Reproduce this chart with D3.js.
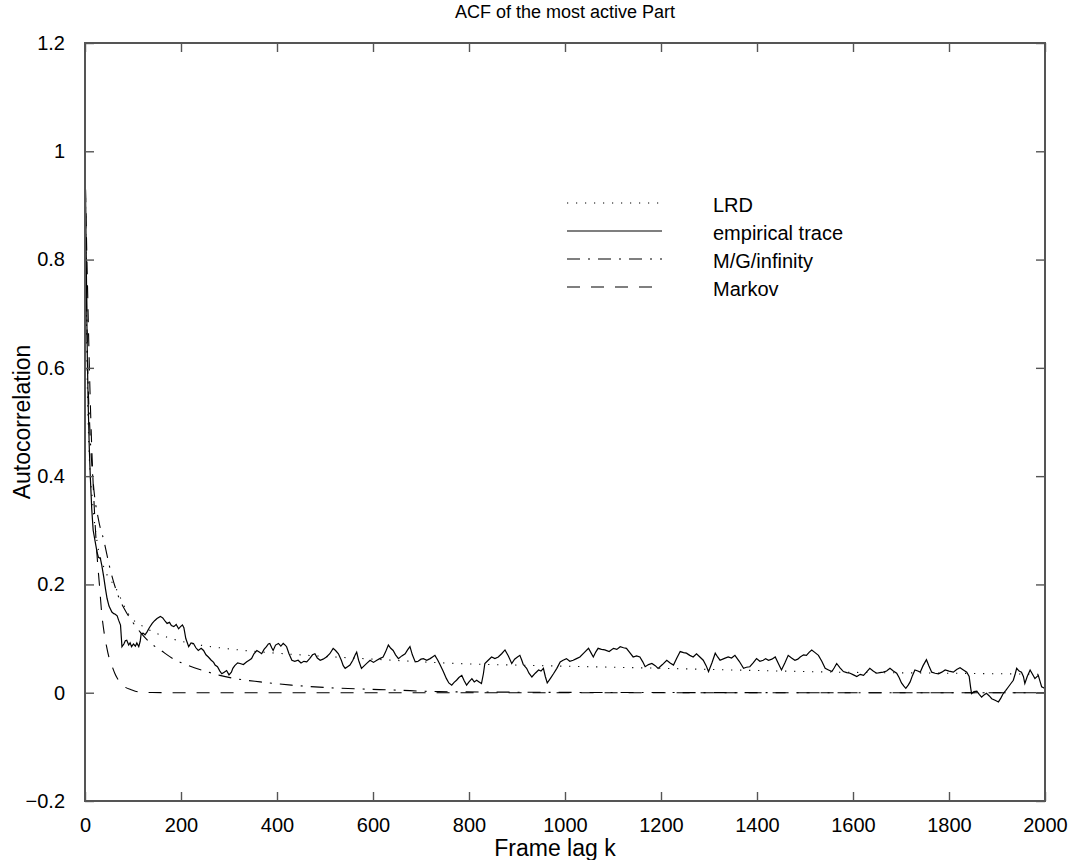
<!DOCTYPE html>
<html>
<head>
<meta charset="utf-8">
<script src="https://cdn.jsdelivr.net/npm/d3@7"></script>
<style>
  html, body { margin: 0; padding: 0; background: #fff; }
  svg { display: block; font-family: "Liberation Sans", Arial, Helvetica, sans-serif; }
</style>
</head>
<body>
<svg id="chart" width="1075" height="860"></svg>
<script>
// Axis ticks
const xTicks = [0, 200, 400, 600, 800, 1000, 1200, 1400, 1600, 1800, 2000];
const yTicks = [-0.2, 0, 0.2, 0.4, 0.6, 0.8, 1, 1.2];
const yTickLabels = ["\u22120.2", "0", "0.2", "0.4", "0.6", "0.8", "1", "1.2"];

// Legend entries
const seriesNames = ["LRD", "empirical trace", "M/G/infinity", "Markov"];

// Empirical autocorrelation: [lag, acf]
const empirical = [
  [1,0.93],[2,0.85],[3,0.77],[4,0.68],[5,0.61],[7,0.52],[9,0.45],[11,0.40],[14,0.34],[17,0.30],
  [21,0.28],[25,0.26],[28,0.25],[32,0.248],[35,0.235],[39,0.214],[43,0.19],[46,0.174],[50,0.16],[56,0.149],
  [60,0.146],[63,0.145],[67,0.142],[70,0.134],[74,0.125],[77,0.085],[81,0.09],[84,0.096],[87,0.097],[91,0.088],
  [94,0.092],[97,0.085],[101,0.09],[105,0.086],[108,0.092],[112,0.085],[115,0.095],[117,0.109],[121,0.11],[125,0.107],
  [129,0.112],[134,0.12],[140,0.128],[145,0.133],[150,0.137],[157,0.141],[162,0.138],[167,0.132],[171,0.128],[176,0.13],
  [180,0.124],[185,0.122],[190,0.126],[195,0.118],[199,0.122],[203,0.125],[206,0.12],[210,0.1],[216,0.085],[221,0.092],
  [226,0.091],[231,0.083],[236,0.078],[242,0.082],[247,0.078],[252,0.07],[257,0.066],[263,0.06],[268,0.056],[271,0.051],
  [276,0.048],[281,0.04],[285,0.035],[290,0.038],[295,0.041],[300,0.033],[305,0.038],[308,0.045],[312,0.05],[318,0.055],
  [323,0.054],[330,0.052],[337,0.057],[342,0.06],[347,0.063],[352,0.072],[358,0.078],[363,0.075],[368,0.072],[373,0.08],
  [378,0.085],[382,0.09],[385,0.091],[389,0.083],[392,0.078],[397,0.088],[403,0.091],[408,0.086],[413,0.091],[417,0.088],
  [420,0.085],[425,0.072],[431,0.06],[437,0.058],[444,0.06],[450,0.055],[456,0.058],[462,0.057],[468,0.063],[474,0.07],
  [479,0.072],[484,0.064],[490,0.06],[496,0.062],[503,0.066],[510,0.072],[517,0.082],[522,0.078],[528,0.072],[534,0.06],
  [538,0.05],[542,0.045],[547,0.048],[552,0.051],[558,0.06],[563,0.07],[566,0.075],[570,0.06],[576,0.045],[582,0.05],
  [588,0.055],[594,0.06],[601,0.056],[608,0.06],[614,0.063],[621,0.066],[626,0.075],[632,0.088],[637,0.082],[642,0.078],
  [647,0.07],[653,0.063],[660,0.068],[667,0.072],[672,0.079],[677,0.085],[682,0.07],[688,0.057],[694,0.058],[700,0.062],
  [705,0.063],[712,0.06],[719,0.063],[724,0.066],[729,0.069],[735,0.06],[740,0.051],[746,0.04],[753,0.026],[758,0.018],
  [764,0.014],[769,0.019],[774,0.023],[779,0.028],[785,0.032],[790,0.022],[795,0.014],[800,0.02],[806,0.026],[811,0.02],
  [816,0.023],[821,0.02],[826,0.017],[830,0.035],[833,0.054],[840,0.06],[847,0.066],[854,0.063],[861,0.066],[868,0.072],
  [875,0.079],[882,0.068],[889,0.054],[895,0.062],[901,0.066],[906,0.069],[910,0.06],[913,0.052],[920,0.045],[925,0.036],
  [931,0.029],[938,0.036],[945,0.042],[950,0.04],[955,0.045],[959,0.03],[963,0.018],[970,0.027],[976,0.035],[983,0.045],
  [990,0.057],[996,0.06],[1003,0.063],[1010,0.058],[1017,0.06],[1024,0.063],[1031,0.066],[1040,0.074],[1049,0.082],[1054,0.074],
  [1059,0.066],[1064,0.075],[1069,0.082],[1076,0.08],[1083,0.079],[1092,0.076],[1101,0.082],[1108,0.08],[1115,0.085],[1122,0.083],
  [1128,0.082],[1135,0.074],[1142,0.066],[1149,0.068],[1156,0.066],[1162,0.057],[1167,0.048],[1174,0.052],[1181,0.054],[1188,0.05],
  [1194,0.045],[1203,0.052],[1212,0.06],[1219,0.055],[1226,0.051],[1233,0.064],[1240,0.076],[1247,0.074],[1253,0.073],[1260,0.069],
  [1267,0.066],[1274,0.072],[1281,0.066],[1288,0.06],[1294,0.05],[1299,0.039],[1306,0.055],[1313,0.073],[1318,0.066],[1323,0.06],
  [1331,0.063],[1340,0.066],[1347,0.064],[1354,0.069],[1363,0.058],[1372,0.045],[1378,0.047],[1385,0.048],[1392,0.055],[1399,0.063],
  [1406,0.058],[1413,0.06],[1418,0.063],[1424,0.06],[1431,0.062],[1438,0.066],[1444,0.055],[1451,0.042],[1458,0.055],[1465,0.069],
  [1472,0.064],[1479,0.06],[1485,0.062],[1490,0.066],[1497,0.07],[1503,0.069],[1509,0.075],[1514,0.079],[1521,0.074],[1528,0.069],
  [1535,0.058],[1542,0.045],[1549,0.042],[1556,0.039],[1561,0.046],[1566,0.054],[1573,0.046],[1580,0.039],[1587,0.037],[1594,0.036],
  [1601,0.033],[1608,0.03],[1615,0.034],[1622,0.032],[1628,0.038],[1635,0.045],[1642,0.04],[1649,0.036],[1656,0.037],[1663,0.038],
  [1670,0.04],[1677,0.045],[1684,0.04],[1691,0.036],[1696,0.028],[1701,0.018],[1706,0.012],[1710,0.008],[1715,0.014],[1719,0.02],
  [1724,0.032],[1729,0.042],[1735,0.04],[1740,0.038],[1746,0.05],[1753,0.061],[1758,0.05],[1764,0.038],[1771,0.036],[1778,0.035],
  [1785,0.038],[1792,0.042],[1800,0.04],[1809,0.038],[1816,0.043],[1823,0.046],[1830,0.042],[1837,0.038],[1842,0.03],[1845,0.01],
  [1847,-0.0015],[1852,0.002],[1858,0.003],[1863,-0.003],[1868,-0.008],[1873,-0.004],[1878,-0.001],[1884,-0.006],[1889,-0.011],[1896,-0.014],
  [1903,-0.017],[1908,-0.01],[1913,-0.0015],[1918,0.004],[1924,0.011],[1929,0.017],[1934,0.023],[1938,0.035],[1941,0.045],[1946,0.04],
  [1951,0.038],[1955,0.03],[1958,0.017],[1963,0.03],[1969,0.042],[1974,0.034],[1979,0.026],[1986,0.032],[1990,0.02],[1993,0.011],
  [2000,0.008]
];

// Fitted model ACFs: [lag, acf]
const lrd = [
  [1,0.93],[2,0.80],[4,0.62],[8,0.46],[15,0.36],[25,0.28],[40,0.23],[63,0.195],[91,0.145],[130,0.118],
  [180,0.1],[240,0.088],[300,0.081],[400,0.073],[500,0.067],[600,0.062],[774,0.054],[950,0.05],[1156,0.046],
  [1400,0.041],[1566,0.038],[1800,0.036],[2000,0.034]
];
const mginf = [
  [1,0.9],[5,0.63],[10,0.49],[17,0.39],[28,0.32],[39,0.282],[53,0.226],[70,0.177],[85,0.15],[98,0.132],
  [115,0.112],[135,0.093],[160,0.077],[185,0.062],[216,0.05],[250,0.04],[281,0.032],[320,0.025],[365,0.02],
  [430,0.014],[503,0.0095],[570,0.007],[642,0.005],[736,0.002],[850,0.0012],[1000,0.0006],[1300,0.0002],
  [1600,0],[2000,0]
];
const markov = [
  [1,0.93],[5,0.76],[10,0.57],[15,0.43],[20,0.33],[25,0.255],[30,0.2],[35,0.145],[40,0.11],[45,0.085],
  [50,0.065],[56,0.05],[62,0.036],[67,0.027],[75,0.017],[84,0.01],[95,0.006],[112,0.0015],[140,0.0003],
  [180,0],[2000,0]
];

const svg = d3.select("#chart");
const plot = { left: 85, right: 1045, top: 43, bottom: 801 };

const x = d3.scaleLinear().domain([0, 2000]).range([plot.left, plot.right]);
const y = d3.scaleLinear().domain([-0.2, 1.2]).range([plot.bottom, plot.top]);

const axisColor = "#555";
const fontSize = 20;
const labelFontSize = 23;
const titleFontSize = 18;

svg.append("defs").append("clipPath").attr("id", "plot-clip")
  .append("rect")
  .attr("x", plot.left).attr("y", plot.top)
  .attr("width", plot.right - plot.left).attr("height", plot.bottom - plot.top);

// Line styles per series
const styles = {
  "LRD": { dash: "1.2,7.8", width: 1.1 },
  "empirical trace": { dash: null, width: 1.2 },
  "M/G/infinity": { dash: "13,8,2,8", width: 1.1 },
  "Markov": { dash: "13,11", width: 1.1 }
};

const lineSmooth = d3.line().x(d => x(d[0])).y(d => y(d[1])).curve(d3.curveMonotoneX);
const lineRaw = d3.line().x(d => x(d[0])).y(d => y(d[1]));

const curves = svg.append("g").attr("clip-path", "url(#plot-clip)");

function drawSeries(data, name, gen) {
  const s = styles[name];
  curves.append("path")
    .datum(data)
    .attr("d", gen)
    .attr("fill", "none")
    .attr("stroke", "#000")
    .attr("stroke-width", s.width)
    .attr("stroke-dasharray", s.dash);
}

drawSeries(markov, "Markov", lineSmooth);
drawSeries(mginf, "M/G/infinity", lineSmooth);
drawSeries(lrd, "LRD", lineSmooth);
drawSeries(empirical, "empirical trace", lineRaw);

// Axes with inward ticks on all four sides
function styleAxis(g) {
  g.select(".domain").remove();
  g.selectAll(".tick line").attr("stroke", axisColor).attr("stroke-width", 1.4);
  g.selectAll(".tick text").attr("fill", "#000").attr("font-size", fontSize)
    .attr("font-family", "Liberation Sans, Arial, Helvetica, sans-serif");
}

svg.append("g")
  .attr("transform", `translate(0,${plot.bottom})`)
  .call(d3.axisBottom(x).tickValues(xTicks).tickSizeInner(-9).tickSizeOuter(0).tickPadding(17).tickFormat(d3.format("d")))
  .call(styleAxis);

svg.append("g")
  .attr("transform", `translate(0,${plot.top})`)
  .call(d3.axisTop(x).tickValues(xTicks).tickSizeInner(-9).tickSizeOuter(0).tickFormat(""))
  .call(styleAxis);

svg.append("g")
  .attr("transform", `translate(${plot.left},0)`)
  .call(d3.axisLeft(y).tickValues(yTicks).tickSizeInner(-9).tickSizeOuter(0).tickPadding(20)
    .tickFormat((d, i) => yTickLabels[i]))
  .call(styleAxis);

svg.append("g")
  .attr("transform", `translate(${plot.right},0)`)
  .call(d3.axisRight(y).tickValues(yTicks).tickSizeInner(-9).tickSizeOuter(0).tickFormat(""))
  .call(styleAxis);

// Frame
svg.append("rect")
  .attr("x", plot.left).attr("y", plot.top)
  .attr("width", plot.right - plot.left).attr("height", plot.bottom - plot.top)
  .attr("fill", "none").attr("stroke", axisColor).attr("stroke-width", 2);

// Title and axis labels
svg.append("text")
  .attr("x", (plot.left + plot.right) / 2).attr("y", 18)
  .attr("text-anchor", "middle").attr("font-size", titleFontSize)
  .text("ACF of the most active Part");

svg.append("text")
  .attr("x", (plot.left + plot.right) / 2 - 10).attr("y", 856)
  .attr("text-anchor", "middle").attr("font-size", labelFontSize)
  .text("Frame lag k");

svg.append("text")
  .attr("transform", `translate(30,${(plot.top + plot.bottom) / 2}) rotate(-90)`)
  .attr("text-anchor", "middle").attr("font-size", labelFontSize)
  .text("Autocorrelation");

// Legend
const legend = svg.append("g").attr("transform", "translate(567,203)");
seriesNames.forEach((name, i) => {
  const s = styles[name];
  const row = legend.append("g").attr("transform", `translate(0,${i * 28})`);
  row.append("line")
    .attr("x1", 0).attr("x2", 95).attr("y1", 0).attr("y2", 0)
    .attr("stroke", "#000").attr("stroke-width", s.width)
    .attr("stroke-dasharray", s.dash);
  row.append("text")
    .attr("x", 146).attr("y", 4).attr("font-size", fontSize)
    .attr("dominant-baseline", "middle")
    .text(name);
});
</script>
</body>
</html>
